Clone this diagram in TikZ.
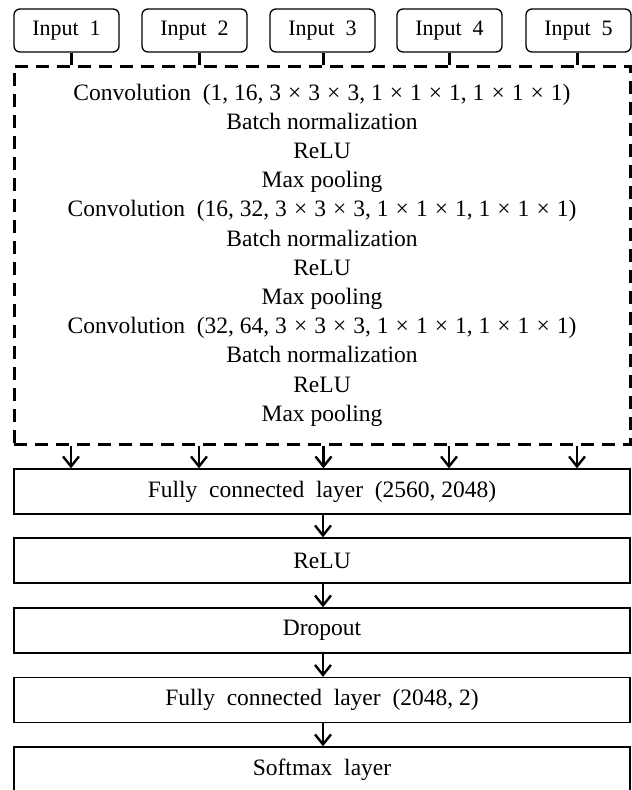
\documentclass[tikz,border=0pt]{standalone}
\usepackage{fontspec}
\setmainfont{Liberation Serif}
\usetikzlibrary{arrows.meta}
\begin{document}
\begin{tikzpicture}[x=1pt,y=-1pt,
  inbox/.style={draw,rounded corners=6pt,line width=1.3pt,minimum width=105pt,minimum height=43pt,inner sep=0pt,font=\fontsize{22}{24}\selectfont},
  layer/.style={draw,line width=1.3pt,minimum width=616pt,minimum height=45pt,inner sep=0pt,font=\fontsize{23.5}{26}\selectfont},
  stem/.style={line width=3pt},
  arr/.style={line width=2.4pt,-{Straight Barb[length=10pt,width=16pt,line width=2.4pt]}},
  dashbox/.style={draw,dash pattern=on 13pt off 8pt,line width=3pt,minimum width=616pt,minimum height=378pt,inner sep=0pt,align=center,font=\fontsize{23.5}{29.2}\selectfont}]
\useasboundingbox (0,0) rectangle (632,790);
\def\tm{\hspace{0.3em}×\hspace{0.3em}}
\node[inbox] (in1) at (66.5,30.5) {Input\ \ 1};
\node[inbox] (in2) at (194.5,30.5) {Input\ \ 2};
\node[inbox] (in3) at (322.5,30.5) {Input\ \ 3};
\node[inbox] (in4) at (449.5,30.5) {Input\ \ 4};
\node[inbox] (in5) at (578.5,30.5) {Input\ \ 5};
\node[dashbox] (feat) at (322,255) {%
Convolution\ \ (1, 16, 3\tm3\tm3, 1\tm1\tm1, 1\tm1\tm1)\\
Batch normalization\\
ReLU\\
Max pooling\\
Convolution\ \ (16, 32, 3\tm3\tm3, 1\tm1\tm1, 1\tm1\tm1)\\
Batch normalization\\
ReLU\\
Max pooling\\
Convolution\ \ (32, 64, 3\tm3\tm3, 1\tm1\tm1, 1\tm1\tm1)\\
Batch normalization\\
ReLU\\
Max pooling};
\node[layer] (fc1) at (322,491.5) {Fully\ \ connected\ \ layer\ \ (2560, 2048)};
\node[layer] (relu) at (322,560.5) {ReLU};
\node[layer] (drop) at (322,630.5) {Dropout};
\node[layer] (fc2) at (322,700) {Fully\ \ connected\ \ layer\ \ (2048, 2)};
\node[layer] (soft) at (322,769.5) {Softmax\ \ layer};
\foreach \i/\dx in {1/4.5,2/4.5,3/1,4/-0.5,5/-1.5}{
  \draw[stem] ([xshift=\dx pt]in\i.south) -- ([xshift=\dx pt]in\i.south |- feat.north);
  \draw[arr] ([xshift=\dx pt]in\i.south |- feat.south) -- ([xshift=\dx pt]in\i.south |- fc1.north);
}
\draw[arr] ([xshift=1pt]fc1.south) -- ([xshift=1pt]relu.north);
\draw[arr] ([xshift=1pt]relu.south) -- ([xshift=1pt]drop.north);
\draw[arr] ([xshift=1pt]drop.south) -- ([xshift=1pt]fc2.north);
\draw[arr] ([xshift=1pt]fc2.south) -- ([xshift=1pt]soft.north);
\end{tikzpicture}
\end{document}
